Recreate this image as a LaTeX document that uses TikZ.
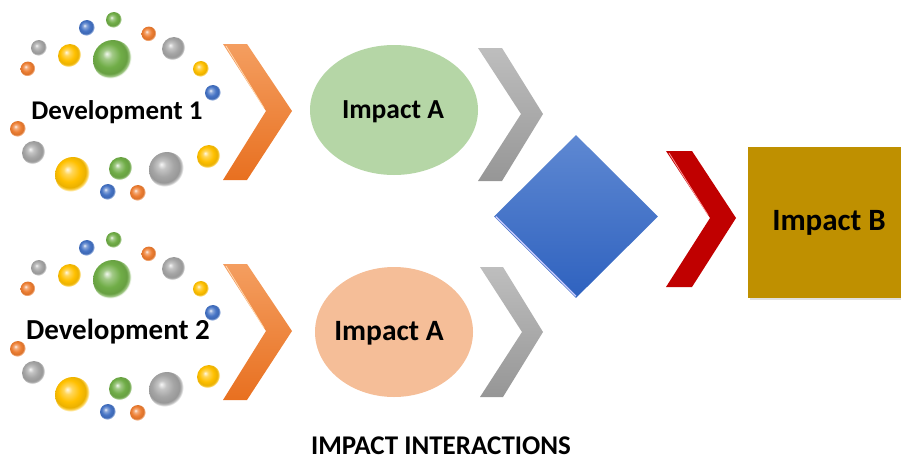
\documentclass[tikz,border=0pt]{standalone}
\usepackage{fontspec}
\setmainfont{Carlito}
\usetikzlibrary{shapes.geometric}
\definecolor{bor}{HTML}{ED7D31}
\definecolor{bbl}{HTML}{4472C4}
\definecolor{bgr}{HTML}{70AD47}
\definecolor{bgy}{HTML}{A5A5A5}
\definecolor{bye}{HTML}{FFC000}
\definecolor{elgreen}{HTML}{B5D6A6}
\definecolor{elorange}{HTML}{F5BE98}
\definecolor{boxgold}{HTML}{BF9000}
\definecolor{chred}{HTML}{C00000}
\colorlet{bubcol}{bgr}
\pgfdeclareradialshading[bubcol]{glossball}{\pgfpoint{-8bp}{8bp}}{%
  color(0bp)=(bubcol!10!white); color(6bp)=(bubcol!65!white); color(15bp)=(bubcol);
  color(22bp)=(bubcol!92!black); color(25bp)=(bubcol!60!white); color(26bp)=(white); color(50bp)=(white)}
\tikzset{
  bubble/.style={shading=glossball},
  chevorange/.style={top color={rgb,255:red,244;green,158;blue,96}, bottom color={rgb,255:red,232;green,112;blue,32}},
  chevgray/.style={top color={rgb,255:red,190;green,190;blue,190}, bottom color={rgb,255:red,150;green,150;blue,150}},
  chevred/.style={fill=chred},
  label/.style={font=\bfseries, text=black, inner sep=0pt},
  impactel/.style={ellipse, inner sep=0pt, minimum width=168pt, minimum height=130pt, font=\bfseries},
}
\begin{document}
\begin{tikzpicture}[x=1pt,y=-1pt]
\useasboundingbox (0,0) rectangle (901,463);
% bubble clusters
\foreach \dy in {0,220}{
  \foreach \bx/\by/\br/\bc in {
    114/20/8/bgr, 87/28/8/bbl, 149/34/7.5/bor, 39/48/8/bgy, 70/56/12/bye,
    113/60/20/bgr, 174/49/12/bgy, 28/69/7.5/bor, 201/69/8/bye, 213/93/8/bbl,
    18/129/8/bor, 34/153/12/bgy, 73/175/18/bye, 121/169/12/bgr, 167/170/18/bgy,
    209/157/12/bye, 108/192/8/bbl, 138/193/8/bor}{
    \colorlet{bubcol}{\bc}
    \shade[bubble] (\bx,\by+\dy) circle (\br pt);
  }
}
% orange chevrons
\shade[chevorange] (223,44) -- (247,44) -- (292,111) -- (247,180) -- (223,180) -- (266,111) -- cycle;
\draw[white!70!orange, line width=0.8pt] (226,46) -- (264,108);
\shade[chevorange] (223,264) -- (247,264) -- (292,331) -- (247,400) -- (223,400) -- (266,331) -- cycle;
\draw[white!70!orange, line width=0.8pt] (226,266) -- (264,328);
% gray chevrons
\shade[chevgray] (478,48) -- (502,48) -- (543,114) -- (502,181) -- (478,181) -- (521,114) -- cycle;
\shade[chevgray] (480,267) -- (503,267) -- (543,332) -- (503,397) -- (480,397) -- (522,332) -- cycle;
% red chevron
\fill[chevred] (666,151) -- (692,151) -- (736,218) -- (692,287) -- (666,287) -- (710,218) -- cycle;
\draw[white!60!red, line width=0.8pt] (669,153) -- (708,215);
% ellipses
\node[impactel, fill=elgreen] (impA1) at (394,110) {};
\node[impactel, fill=elorange, minimum width=158pt] (impA2) at (394,332) {};
% diamond
\node[diamond, inner sep=0pt, minimum width=164pt, minimum height=163pt, aspect=1,
      top color={rgb,255:red,94;green,136;blue,210}, bottom color={rgb,255:red,47;green,98;blue,191}] (diam) at (576,216.5) {};
\draw[white!80!blue, line width=1.2pt] ([xshift=2pt]diam.west) -- ([yshift=2pt]diam.south);
% Impact B box
\fill[black!12] (750,149) rectangle (903,300);
\node[fill=boxgold, inner sep=0pt, minimum width=155pt, minimum height=151pt, anchor=north west] (impB) at (748,147) {};
% labels
\node[label, font=\fontsize{27}{30}\selectfont\bfseries] (dev1) at (117,112) {Development 1};
\node[label, font=\fontsize{29}{32}\selectfont\bfseries] (dev2) at (118,332) {Development 2};
\node[label, font=\fontsize{27.5}{30}\selectfont\bfseries] (labA1) at (393,112) {Impact A};
\node[label, font=\fontsize{29.5}{32}\selectfont\bfseries] (labA2) at (389,333) {Impact A};
\node[label, font=\fontsize{31}{34}\selectfont\bfseries] (labB) at (829,223) {Impact B};
\node[label, font=\fontsize{27}{30}\selectfont\bfseries] (title) at (441,446) {IMPACT INTERACTIONS};
\end{tikzpicture}
\end{document}
